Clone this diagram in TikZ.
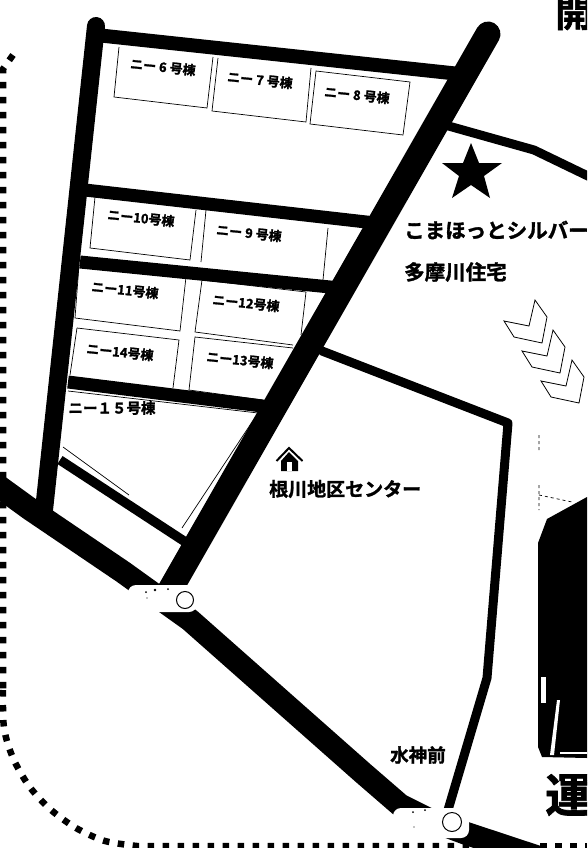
\documentclass[tikz,border=0pt]{standalone}
\usepackage{fontspec}
\newfontfamily\jpb[RawFeature={embolden=1.5}]{Noto Sans CJK JP Bold}
\newcommand{\gp}{\hspace{3pt}}
\tikzset{
 road/.style={line width=#1,black,line join=round},
 lot/.style={line width=0.7pt,black},
 lab/.style={font=\jpb\fontsize{13}{13}\selectfont,inner sep=0pt,rotate=-6},
 tag/.style={font=\jpb\fontsize{#1}{#1}\selectfont,inner sep=0pt,anchor=west},
 chev/.style={line width=0.8pt,black,fill=white},
 stopbox/.style={white,fill=white,rounded corners=8pt}
}
\begin{document}
\begin{tikzpicture}[x=1pt,y=-1pt]
\useasboundingbox (0,0) rectangle (587,848);
\clip (0,0) rectangle (587,848);
\fill[white] (0,0) rectangle (587,848);
% lots
\draw[lot] (119,47)--(114,97)--(207,108)--(213,57);
\draw[lot] (218,58)--(212,111)--(306,122)--(311,68);
\draw[lot] (316,71)--(310,124)--(403,135)--(410,82)--cycle;
\draw[lot] (95,197)--(90,248)--(190,260)--(196,210);
\draw[lot] (206,210)--(201,262);
\draw[lot] (328,228)--(323,280);
\draw[lot] (79,265)--(75,318)--(180,331)--(186,277)--cycle;
\draw[lot] (77,328)--(70,375);
\draw[lot] (77,328)--(179,340)--(173,388);
\draw[lot] (202,280)--(195,332)--(293,345);
\draw[lot] (202,280)--(306,292)--(301,335);
\draw[lot] (293,348)--(195,337)--(189,390)--(263,400);
\draw[lot] (68,391)--(258,413)--(182,528);
\draw[lot] (63,447)--(129,495);
% roads
\draw[road=18pt,line cap=round] (96,26)--(44,510);
\draw[road=14pt] (96,35)--(460,74);
\draw[road=13pt] (85,190)--(375,223);
\draw[road=13pt] (80,262)--(340,288);
\draw[road=13pt] (68,382)--(270,407);
\draw[road=9.5pt] (60,460)--(190,545);
\draw[road=9pt] (445,125)--(534,150)--(592,178);
\draw[road=9pt,line cap=round] (322,351)--(508,423)--(487,678)--(448,810);
\draw[road=23pt] (-10,480)--(30,509)--(123,572)--(155,595)--(190,620)--(363,773)--(400,805)--(430,820)--(465,833)--(610,881);
\draw[road=25pt,line cap=round] (488,34)--(170,590);
% dotted border
\draw[line width=6.5pt,dash pattern=on 6.5pt off 8.5pt] (13,55)--(3,69)--(3,690) plot[smooth] coordinates {(3,690)(4,728)(13,758)(29,786)(50,809)(76,828)(105,841)(137,846)} -- (470,846);
\draw[line width=6.5pt,dash pattern=on 6.5pt off 8.5pt] (540,846)--(587,846);
% stop marks
\fill[stopbox] (128,585) rectangle (197,612);
\draw[line width=1pt] (185,600) circle (8.5);
\fill (146,592) circle (1) (155,590) circle (1.3) (168,589) circle (1) (147,598) circle (.7);
\fill[stopbox] (393,808) rectangle (469,838);
\draw[line width=1pt] (452,822) circle (9.5);
\fill (413,812) circle (1) (425,810) circle (1) (414,827) circle (.7);
% star
\fill (471,143)--(479,163)--(502,163)--(484,176)--(490,198)--(471,185)--(452,198)--(459,176)--(442,163)--(463,163)--cycle;
% house
\draw[line width=2pt] (276.5,461)--(289,448)--(302.5,461);
\fill (289,452)--(298,461)--(298,471)--(281,471)--(281,461)--cycle;
\fill[white] (287,462) rectangle (292,471);
% chevrons
\foreach \dx/\dy in {0/0,18/30,37/60}{
 \draw[chev,shift={(\dx,\dy)}] (535,300)--(547,317)--(542,343)--(514,337)--(504,321)--(529,326)--cycle;
}
% block
\fill (587,497)--(547,519)--(538,543)--(538,747)--(542,757)--(587,758)--cycle;
\fill[white] (541,677) rectangle (546,703);
\fill[white] (557,700)--(560,700)--(554,755)--(550,755)--cycle;
\fill[white] (560,752) rectangle (587,754);
\draw[line width=.7pt,dashed] (539,435)--(539,450) (539,485)--(539,510) (539,495)--(572,502);
% big text
\node[tag=38] (kai) at (555,13) {開};
\node[tag=46] (un) at (545,795) {運};
% labels
\node[lab] (b6) at (163,67) {ニー\gp{}6\gp{}号棟};
\node[lab] (b7) at (260,80) {ニー\gp{}7\gp{}号棟};
\node[lab] (b8) at (357,95) {ニー\gp{}8\gp{}号棟};
\node[lab] (b10) at (141,218) {ニー10号棟};
\node[lab] (b9) at (249,233) {ニー\gp{}9\gp{}号棟};
\node[lab] (b11) at (125,290) {ニー11号棟};
\node[lab] (b12) at (246,303) {ニー12号棟};
\node[lab] (b14) at (120,352) {ニー14号棟};
\node[lab] (b13) at (240,360) {ニー13号棟};
\node[lab,rotate=6] (b15) at (112,408) {\fontsize{14.5}{14.5}\selectfont ニー１５号棟};
\node[tag=20.5] (koma) at (404,230) {こまほっとシルバー};
\node[tag=20.5] (tama) at (404,272) {多摩川住宅};
\node[tag=19] (nek) at (269,489) {根川地区センター};
\node[tag=18.5] (sui) at (390,755) {水神前};
\end{tikzpicture}
\end{document}
